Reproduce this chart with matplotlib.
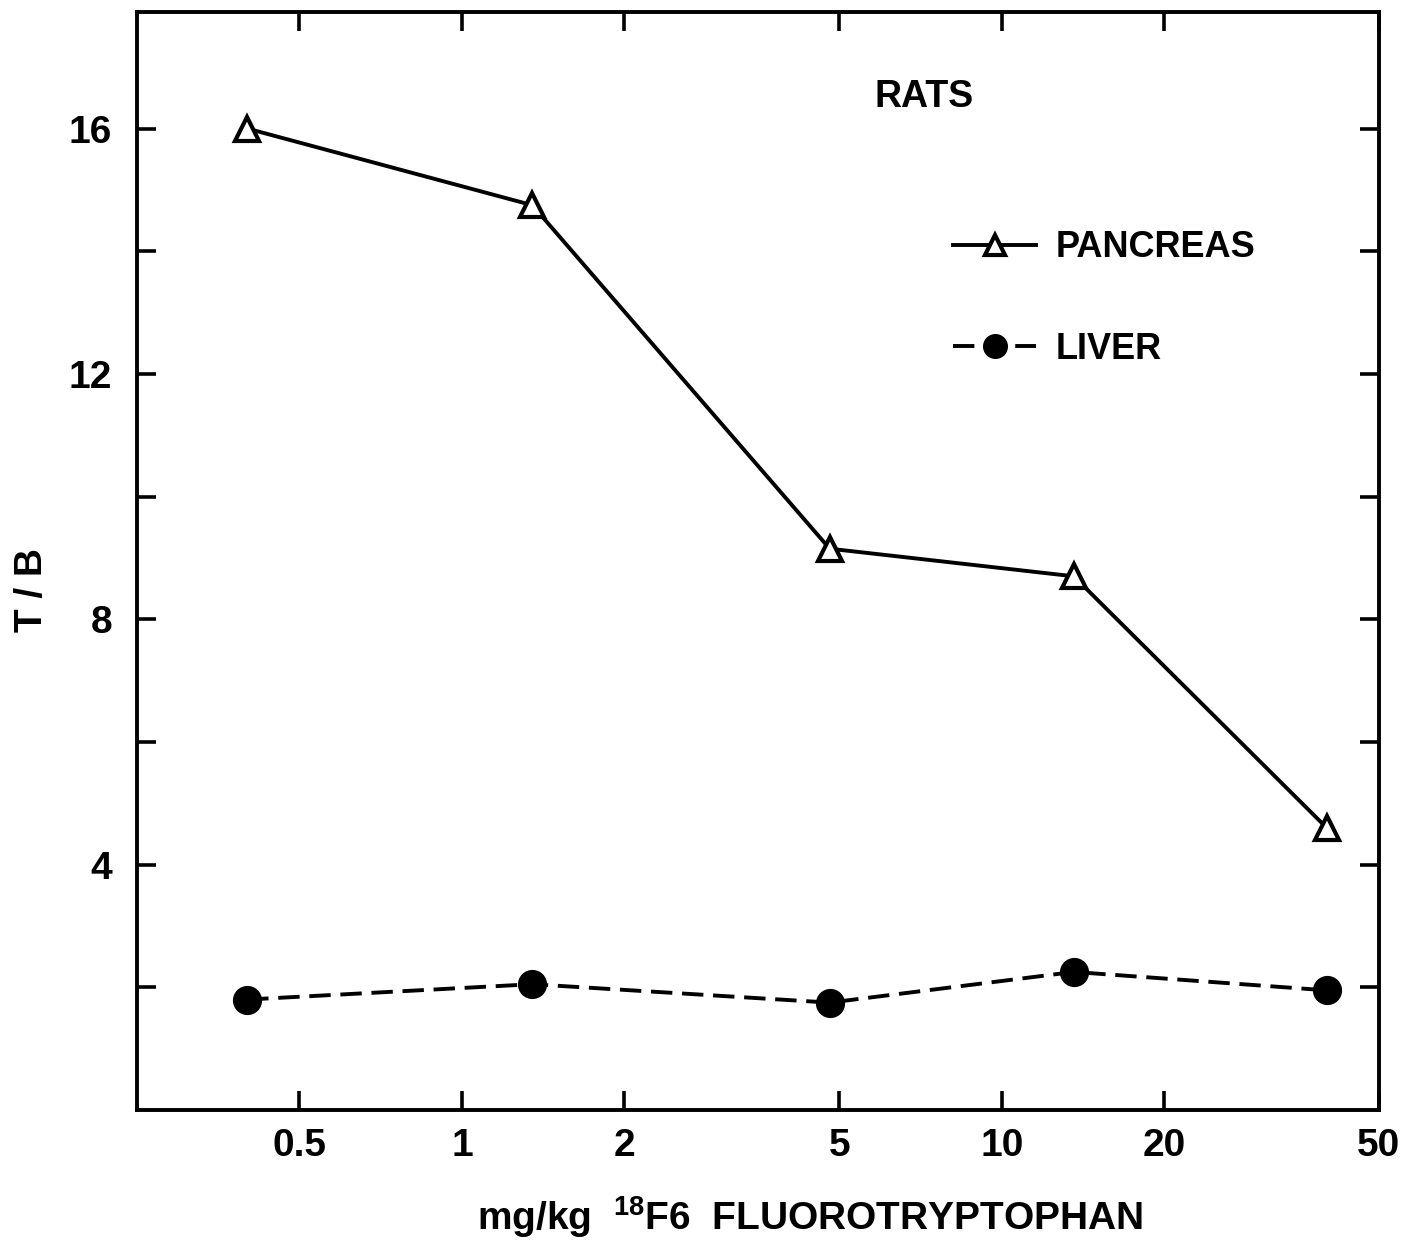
import matplotlib
matplotlib.use("Agg")
import matplotlib.pyplot as plt
from matplotlib.ticker import FixedLocator, FixedFormatter, NullLocator

# dose (mg/kg) and tumour/blood ratios
dose = [0.4, 1.35, 4.8, 13.6, 40.0]
pancreas = [16.0, 14.75, 9.15, 8.7, 4.6]
liver = [1.8, 2.05, 1.75, 2.25, 1.95]

xticks = [0.5, 1, 2, 5, 10, 20, 50]
xticklabels = ["0.5", "1", "2", "5", "10", "20", "50"]
yticks = [2, 4, 6, 8, 10, 12, 14, 16]
yticklabels = ["", "4", "", "8", "", "12", "", "16"]

plt.rcParams["font.family"] = ["Liberation Sans", "DejaVu Sans"]
plt.rcParams["font.weight"] = "bold"
plt.rcParams["mathtext.fontset"] = "custom"
plt.rcParams["mathtext.rm"] = "Liberation Sans:bold"
plt.rcParams["mathtext.default"] = "rm"

fig = plt.figure(figsize=(14.11, 12.47), dpi=100)
ax = fig.add_axes([0.0971, 0.1099, 0.8802, 0.8805])

ax.plot(dose, pancreas, color="black", lw=2.8, marker="^", ms=17,
        mfc="white", mec="black", mew=3.0, label="PANCREAS")
ax.plot(dose, liver, color="black", lw=2.8, ls=(0, (5.5, 2.5)), marker="o",
        ms=20, mfc="black", mec="black", label="LIVER")

ax.set_xscale("log")
ax.set_xlim(0.25, 50)
ax.set_ylim(0, 17.9)

ax.xaxis.set_major_locator(FixedLocator(xticks))
ax.xaxis.set_major_formatter(FixedFormatter(xticklabels))
ax.xaxis.set_minor_locator(NullLocator())
ax.yaxis.set_major_locator(FixedLocator(yticks))
ax.yaxis.set_major_formatter(FixedFormatter(yticklabels))

ax.tick_params(axis="both", which="major", direction="in", length=14,
               width=2.6, labelsize=28, top=True, right=True)
ax.tick_params(axis="x", pad=13)
ax.tick_params(axis="y", pad=18)

for sp in ax.spines.values():
    sp.set_linewidth(2.8)

ax.set_xlabel("mg/kg  $^{18}$F6  FLUOROTRYPTOPHAN", fontsize=28,
              fontweight="bold")
ax.xaxis.set_label_coords(0.542, -0.077)
ax.set_ylabel("T / B", fontsize=28, fontweight="bold")
ax.yaxis.set_label_coords(-0.070, 0.474)

ax.text(0.634, 0.9226, "RATS", transform=ax.transAxes, fontsize=27,
        fontweight="bold", ha="center", va="center")

leg = ax.legend(loc="center left", bbox_to_anchor=(0.657, 0.739),
                frameon=False, fontsize=26, handlelength=2.3,
                handletextpad=0.55, labelspacing=1.85, borderpad=0,
                borderaxespad=0, markerscale=0.85)

fig.savefig("out.png", dpi=100)
